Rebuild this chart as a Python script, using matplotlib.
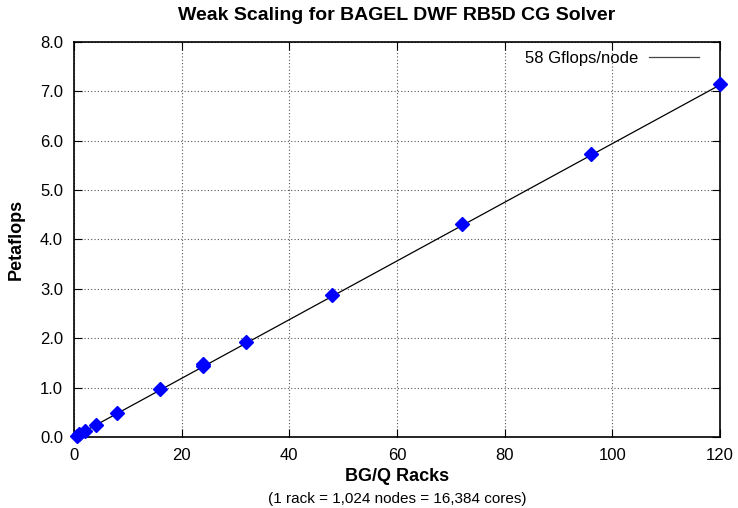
import matplotlib
matplotlib.use("Agg")
import matplotlib.pyplot as plt
from matplotlib.ticker import FormatStrFormatter

plt.rcParams['font.family'] = ['Liberation Sans', 'DejaVu Sans']

# measured points
racks = [0.5, 1, 2, 4, 8, 16, 24, 24, 32, 48, 72, 96, 120]
pflops = [0.03, 0.06, 0.12, 0.24, 0.48, 0.97, 1.43, 1.47, 1.92, 2.88, 4.32, 5.73, 7.15]

# 58 Gflops/node reference line
line_x = [0, 120]
line_y = [0, 7.13]

fig = plt.figure(figsize=(7.38, 5.08), dpi=100)
ax = fig.add_axes([0.1003, 0.1398, 0.8753, 0.7776])

ax.plot(line_x, line_y, '-', color='black', lw=0.9, label='58 Gflops/node')
ax.plot(racks, pflops, 'D', color='#0000ff', ms=7, mec='#0000ff', clip_on=False, zorder=3)

ax.set_xlim(0, 120)
ax.set_ylim(0, 8)
ax.set_xticks(range(0, 121, 20))
ax.set_yticks(range(0, 9))
ax.yaxis.set_major_formatter(FormatStrFormatter('%.1f'))
ax.tick_params(direction='in', top=True, right=True, length=6, labelsize=12)
ax.tick_params(axis='x', pad=8)
ax.tick_params(axis='y', pad=8)
ax.grid(True, linestyle=(0, (1, 2)), color='#555555', lw=0.8)
for s in ax.spines.values():
    s.set_linewidth(1.2)

fig.text(0.5 * (0.1003 + 0.9756), 1 - 16 / 508, 'Weak Scaling for BAGEL DWF RB5D CG Solver',
         ha='center', va='center', fontsize=14, fontweight='bold')
ax.set_ylabel('Petaflops', fontsize=13, fontweight='bold')
ax.yaxis.set_label_coords(-0.076, 0.5)
ax.set_xlabel('BG/Q Racks', fontsize=13, fontweight='bold', va='top')
ax.xaxis.set_label_coords(0.5, -0.078)
fig.text(0.5 * (0.1003 + 0.9756), 9 / 508, '(1 rack = 1,024 nodes = 16,384 cores)',
         ha='center', va='center', fontsize=11)

leg = ax.legend(loc='upper right', bbox_to_anchor=(0.978, 0.995), frameon=False, fontsize=12,
                markerfirst=False, handlelength=3.0, handletextpad=0.66, borderaxespad=0)
leg.get_lines()[0].set_color('#444444')

fig.savefig('out.png', dpi=100)
